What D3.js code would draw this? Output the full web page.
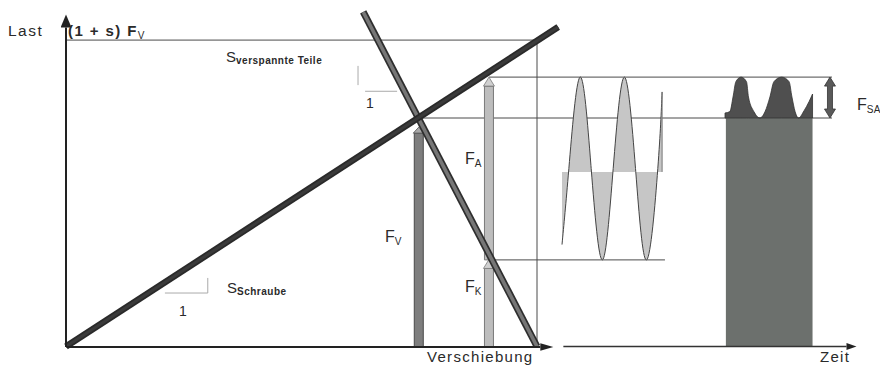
<!DOCTYPE html>
<html>
<head>
<meta charset="utf-8">
<script src="https://cdn.jsdelivr.net/npm/d3@7"></script>
<style>
  body { margin: 0; background: #fff; }
  svg { display: block; font-family: "Liberation Sans", Arial, sans-serif; }
</style>
</head>
<body>
<svg id="chart" width="880" height="365"></svg>
<script>
// load unit: F_V = 100
const preload = 100;        // F_V
const overload = 134.1;     // (1 + s) F_V
const upperLoad = 117.9;    // F_V + F_SA
const clampLoad = 37.9;     // F_K

// displacement diagram (Verschiebung)
const boltDisp = [0, 104.5];
const boltLoad = [0, 139.8];
const partsDisp = [63.1, 100];
const partsLoad = [146.4, 0];
const fvDisp = 74.9;        // F_V arrow
const faDisp = 89.8;        // F_A / F_K arrows
const frameDisp = 100;

// slope triangles
const boltTriDisp = [21.0, 30.1, 30.1];
const boltTriLoad = [23.4, 23.4, 30.0];
const partsTriDisp = [62.0, 62.0];
const partsTriLoad = [122.8, 114.4];
const partsTri2Disp = [63.5, 70.3];
const partsTri2Load = [111.7, 111.7];

// time diagram (Zeit)
const sineTime = [0, 2.4, 6.3, 10.2, 14.1, 17.9, 21.8, 25.7, 29.6, 33.5, 35.0];
const sineLoad = [44.6, 77.9, 117.9, 77.9, 37.9, 77.9, 117.9, 77.9, 37.9, 77.9, 111.4];
const sineBase = 76.4;
const humpTime = [57.0, 58.7, 59.8, 60.8, 62.6, 64.5, 65.2, 67.1, 69.2,
                  71.0, 72.7, 74.1, 76.8, 79.4, 80.4, 81.5, 82.7, 84.6, 86.4, 87.6];
const humpLoad = [102.2, 102.8, 109.2, 115.9, 117.9, 115.9, 109.2, 102.8, 100,
                  102.8, 109.2, 115.9, 117.9, 115.9, 109.2, 102.8, 100, 103.1, 107.2, 110.5];
const blockTime = [57.3, 87.6];
const fsaTime = 93.7;
const lineEndTime = 94.4;
const clampLineEndTime = 36.0;

const svg = d3.select("#chart");

const x = d3.scaleLinear().domain([0, 100]).range([66, 537]);
const y = d3.scaleLinear().domain([0, 100]).range([346.5, 118]);
const t = d3.scaleLinear().domain([0, 100]).range([562, 848]);

// markers for axis arrows
const defs = svg.append("defs");
function marker(id, len, half) {
    defs.append("marker")
        .attr("id", id)
        .attr("markerUnits", "userSpaceOnUse")
        .attr("markerWidth", len + 1)
        .attr("markerHeight", half * 2 + 1)
        .attr("refX", 0)
        .attr("refY", half)
        .attr("orient", "auto")
        .append("path")
        .attr("d", `M0,0L${len},${half}L0,${half * 2}Z`)
        .attr("fill", "#222");
}
marker("arrX", 13, 3.8);
marker("arrY", 13, 5.5);
marker("arrT", 10, 3.5);

const thin = "#4a4a4a";

// frame: (1+s)F_V line and vertical at end of parts line
svg.append("path")
    .attr("d", `M${x(0)},${y(overload)}H${x(frameDisp)}V${y(0)}`)
    .attr("fill", "none").attr("stroke", thin).attr("stroke-width", 1);

// horizontal reference lines
const hLines = [
    [x(fvDisp), t(lineEndTime), preload],
    [x(faDisp), t(lineEndTime), upperLoad],
    [x(faDisp), t(clampLineEndTime), clampLoad]
];
svg.selectAll("line.ref")
    .data(hLines)
    .enter().append("line")
    .attr("class", "ref")
    .attr("x1", d => d[0]).attr("x2", d => d[1])
    .attr("y1", d => y(d[2])).attr("y2", d => y(d[2]))
    .attr("stroke", thin).attr("stroke-width", 1);

// slope triangles
const triLine = d3.line().x(d => x(d[0])).y(d => y(d[1]));
[[boltTriDisp, boltTriLoad], [partsTriDisp, partsTriLoad], [partsTri2Disp, partsTri2Load]]
    .forEach(([ds, ls]) => {
        svg.append("path")
            .attr("d", triLine(d3.zip(ds, ls)))
            .attr("fill", "none").attr("stroke", "#aaa").attr("stroke-width", 1);
    });

// sine (alternating load)
const sinePts = d3.zip(sineTime, sineLoad);
const sineArea = d3.area()
    .x(d => t(d[0])).y0(y(sineBase)).y1(d => y(d[1]))
    .curve(d3.curveNatural);
const sineLine = d3.line()
    .x(d => t(d[0])).y(d => y(d[1]))
    .curve(d3.curveNatural);
svg.append("path").attr("d", sineArea(sinePts)).attr("fill", "#c6c6c6");
svg.append("path").attr("d", sineLine(sinePts))
    .attr("fill", "none").attr("stroke", "#444").attr("stroke-width", 1);
const lastSine = sinePts[sinePts.length - 1];
svg.append("line")
    .attr("x1", t(lastSine[0])).attr("x2", t(lastSine[0]))
    .attr("y1", y(lastSine[1])).attr("y2", y(sineBase))
    .attr("stroke", "#777").attr("stroke-width", 1);

// bolt load over time: block + humps
svg.append("rect")
    .attr("x", t(blockTime[0])).attr("width", t(blockTime[1]) - t(blockTime[0]))
    .attr("y", y(preload)).attr("height", y(0) - y(preload))
    .attr("fill", "#6c706d");
const humpArea = d3.area()
    .x(d => t(d[0])).y0(y(preload)).y1(d => y(d[1]))
    .curve(d3.curveMonotoneX);
svg.append("path")
    .attr("d", humpArea(d3.zip(humpTime, humpLoad)))
    .attr("fill", "#4f4f4f").attr("stroke", "#333").attr("stroke-width", 0.8);

// F_SA double arrow
(function () {
    const cx = t(fsaTime), top = y(upperLoad), bot = y(preload);
    const sw = 2.5, hw = 5.5, hl = 9;
    svg.append("path")
        .attr("d", `M${cx},${top}L${cx + hw},${top + hl}H${cx + sw}V${bot - hl}H${cx + hw}L${cx},${bot}` +
                   `L${cx - hw},${bot - hl}H${cx - sw}V${top + hl}H${cx - hw}Z`)
        .attr("fill", "#5a5a5a").attr("stroke", "#333").attr("stroke-width", 0.8);
})();

// force arrows (bars with heads)
function forceArrow(disp, from, to, fill, headFill, stroke, headLen) {
    const cx = x(disp), w = 4.5, hw = 5.5;
    const yb = y(from), yt = y(to);
    svg.append("path")
        .attr("d", `M${cx - w},${yb}V${yt + headLen}H${cx + w}V${yb}Z`)
        .attr("fill", fill).attr("stroke", stroke).attr("stroke-width", 1);
    svg.append("path")
        .attr("d", `M${cx - hw},${yt + headLen}L${cx},${yt}L${cx + hw},${yt + headLen}Z`)
        .attr("fill", headFill).attr("stroke", stroke).attr("stroke-width", 0.8);
}
forceArrow(fvDisp, 0, 96, "#7e7e7e", "#a8a8a8", "#4a4a4a", 6);
forceArrow(faDisp, clampLoad, upperLoad, "#bdbdbd", "#d0d0d0", "#7a7a7a", 9);
forceArrow(faDisp, 0, clampLoad + 0.2, "#bdbdbd", "#d0d0d0", "#7a7a7a", 9);

// stiffness lines
const dLine = d3.line().x(d => x(d[0])).y(d => y(d[1]));
const partsPts = d3.zip(partsDisp, partsLoad);
svg.append("path").attr("d", dLine(partsPts))
    .attr("stroke", "#2e2e2e").attr("stroke-width", 7).attr("fill", "none");
svg.append("path").attr("d", dLine(partsPts))
    .attr("stroke", "#767676").attr("stroke-width", 3.6).attr("fill", "none");
const boltPts = d3.zip(boltDisp, boltLoad);
svg.append("path").attr("d", dLine(boltPts))
    .attr("stroke", "#2a2a2a").attr("stroke-width", 6.5).attr("fill", "none");
svg.append("path").attr("d", dLine(boltPts))
    .attr("stroke", "#3a3a3a").attr("stroke-width", 3).attr("fill", "none");

// axes
const xAxisScale = x.copy().domain([0, 100.6]).range([x(0), x(100.6)]);
const yAxisScale = y.copy().domain([0, 139.8]).range([y(0), y(139.8)]);
const tAxisScale = t.copy().domain([0.3, 99.3]).range([t(0.3), t(99.3)]);

const gx = svg.append("g")
    .attr("transform", `translate(0,${y(0)})`)
    .call(d3.axisBottom(xAxisScale).tickValues([]).tickSizeOuter(0));
gx.select(".domain").attr("stroke", "#222").attr("stroke-width", 2).attr("marker-end", "url(#arrX)");

const gy = svg.append("g")
    .attr("transform", `translate(${x(0) - 0.5},0)`)
    .call(d3.axisLeft(yAxisScale).tickValues([]).tickSizeOuter(0));
gy.select(".domain").attr("stroke", "#222").attr("stroke-width", 2).attr("marker-end", "url(#arrY)");

const gt = svg.append("g")
    .attr("transform", `translate(0,${y(0) - 0.5})`)
    .call(d3.axisBottom(tAxisScale).tickValues([]).tickSizeOuter(0));
gt.select(".domain").attr("stroke", "#333").attr("stroke-width", 1.3).attr("marker-end", "url(#arrT)");

// labels
const ink = "#2a2a2a";
function label(px, py, main, sub, opts = {}) {
    const txt = svg.append("text")
        .attr("x", px).attr("y", py)
        .attr("fill", ink)
        .attr("font-size", opts.size || 15)
        .attr("font-weight", opts.weight || "normal")
        .attr("letter-spacing", opts.spacing != null ? opts.spacing : 1.2)
        .text(main);
    if (sub) {
        txt.append("tspan")
            .attr("dy", opts.subDy || 3)
            .attr("font-size", opts.subSize || 10)
            .attr("font-weight", opts.subWeight || "normal")
            .attr("letter-spacing", opts.subSpacing != null ? opts.subSpacing : 0.3)
            .text(sub);
    }
    return txt;
}

label(8, 36, "Last", null, { size: 15.5, spacing: 1.5 });
label(68, 36, "(1 + s) F", "V", { weight: "bold", spacing: 1.4, subWeight: "normal" });
label(226, 62, "S", "verspannte Teile", { size: 15, spacing: 0, subSize: 10, subWeight: "bold", subSpacing: 0.5, subDy: 2 });
label(227, 293, "S", "Schraube", { size: 15, spacing: 0, subSize: 10, subWeight: "bold", subSpacing: 0.5, subDy: 2 });
label(366, 108, "1", null, { size: 14, spacing: 0 });
label(179, 316, "1", null, { size: 14, spacing: 0 });
label(465, 164, "F", "A", { size: 16, spacing: 0 });
label(385, 242, "F", "V", { size: 16, spacing: 0 });
label(465, 292, "F", "K", { size: 16, spacing: 0 });
label(857, 110, "F", "SA", { size: 16, spacing: 0 });
label(427, 362, "Verschiebung", null, { size: 15, spacing: 1.3 });
label(820, 362, "Zeit", null, { size: 15, spacing: 1.3 });
</script>
</body>
</html>
